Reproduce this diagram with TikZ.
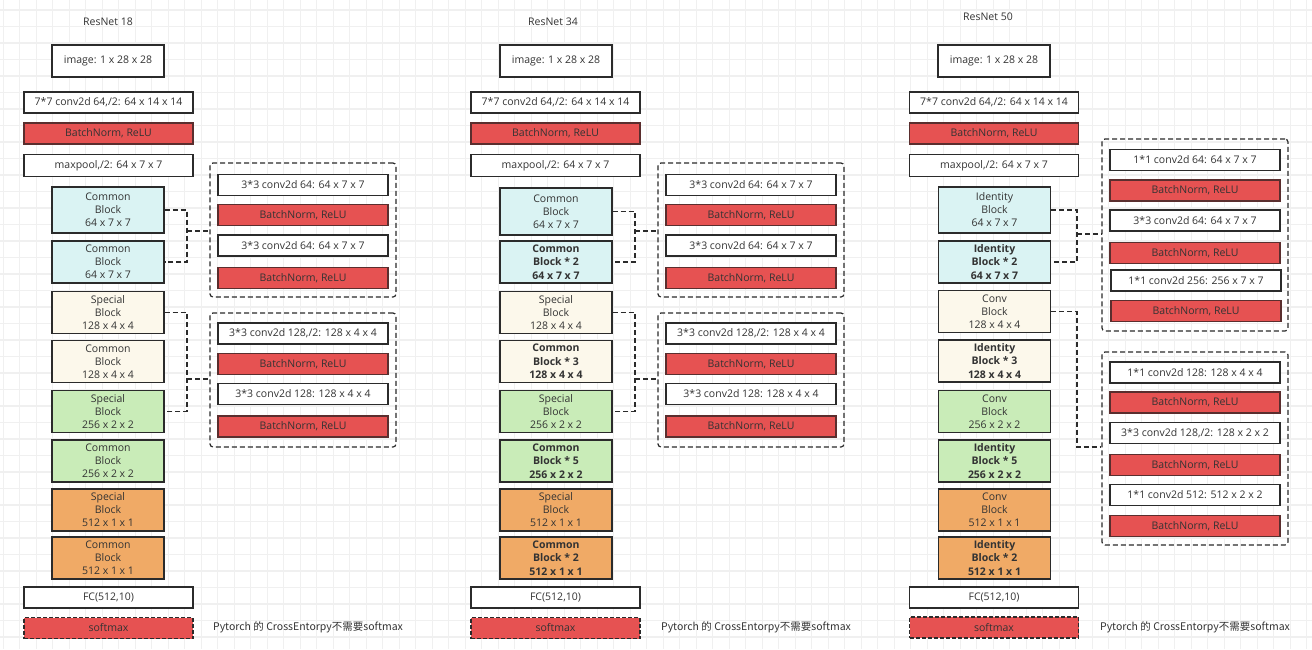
\documentclass[tikz,border=0pt]{standalone}
\usepackage{fontspec}
\setmainfont{Open Sans}
\newfontfamily\cjk{Noto Sans CJK SC}
\usetikzlibrary{positioning, calc}
\definecolor{linegray}{HTML}{2B2B2B}
\definecolor{textgray}{HTML}{333333}
\definecolor{gridgray}{HTML}{F0F0F0}
\definecolor{bnred}{HTML}{E65252}
\definecolor{bnborder}{HTML}{5A2E2E}
\definecolor{cyanfill}{HTML}{DAF3F3}
\definecolor{creamfill}{HTML}{FCF8EB}
\definecolor{greenfill}{HTML}{C9ECB8}
\definecolor{orangefill}{HTML}{F0AA66}
\tikzset{
    layer/.style = {draw=linegray, rectangle, line width=1.1pt, minimum width=169pt, minimum height=21pt, inner sep=0pt, text centered, text=textgray, fill=white},
    bnlayer/.style = {layer, fill=bnred, draw=bnborder},
    block/.style = {draw=linegray, rectangle, line width=1.1pt, minimum width=112pt, minimum height=42pt, inner sep=0pt, align=center, text=textgray},
    boldblock/.style = {block, font=\fontsize{10.5}{13.5}\selectfont\bfseries},
    sublayer/.style = {layer, minimum width=170pt},
    subbn/.style = {sublayer, fill=bnred, draw=bnborder},
    subgraph/.style = {draw=linegray, rectangle, rounded corners=3pt, line width=1.2pt, dash pattern=on 5pt off 3pt, minimum width=186pt, inner sep=0pt},
    link/.style = {draw=linegray, line width=1.2pt, dash pattern=on 5pt off 3pt},
    title/.style = {text=textgray},
    note/.style = {text=textgray, font=\cjk\fontsize{10.5}{13}\selectfont}
}

\begin{document}
\begin{tikzpicture}[x=1pt, y=-1pt, font=\fontsize{10.5}{13}\selectfont]
    % background and grid
    \fill[white] (0,0) rectangle (1312,649);
    \useasboundingbox (0,0) rectangle (1312,649);
    \foreach \gx in {3.2,19.7,...,1312} \draw[gridgray, line width=1.2pt] (\gx,0) -- (\gx,649);
    \foreach \gy in {10,26.5,...,649} \draw[gridgray, line width=1.2pt] (0,\gy) -- (1312,\gy);

    % ResNet 18
    \node[title] (r18title) at (108,22) {ResNet 18};
    \node[layer, minimum width=112pt, minimum height=32pt] (r18img) at (108,61) {image: 1 x 28 x 28};
    \node[layer] (r18conv) at (108.5,102.5) {7*7 conv2d 64,/2: 64 x 14 x 14};
    \node[bnlayer] (r18bn) at (108.5,133.5) {BatchNorm, ReLU};
    \node[layer, minimum height=22pt] (r18pool) at (108.5,165.5) {maxpool,/2: 64 x 7 x 7};
    \node[block, fill=cyanfill, minimum height=46pt] (r18b1) at (108,210) {Common\\Block\\64 x 7 x 7};
    \node[block, fill=cyanfill] (r18b2) at (108,262) {Common\\Block\\64 x 7 x 7};
    \node[block, fill=creamfill] (r18b3) at (108,312.5) {Special\\Block\\128 x 4 x 4};
    \node[block, fill=creamfill] (r18b4) at (108,361.5) {Common\\Block\\128 x 4 x 4};
    \node[block, fill=greenfill] (r18b5) at (108,411.5) {Special\\Block\\256 x 2 x 2};
    \node[block, fill=greenfill] (r18b6) at (108,461) {Common\\Block\\256 x 2 x 2};
    \node[block, fill=orangefill] (r18b7) at (108,510) {Special\\Block\\512 x 1 x 1};
    \node[block, fill=orangefill] (r18b8) at (108,558) {Common\\Block\\512 x 1 x 1};
    \node[layer] (r18fc) at (108.5,597.5) {FC(512,10)};
    \node[bnlayer, draw=linegray, dash pattern=on 4pt off 2pt] (r18soft) at (108.5,628) {softmax};
    \node[note] (r18note) at (308,627) {Pytorch 的 CrossEntorpy不需要softmax};

    \node[subgraph, minimum height=134pt] (r18g1) at (303,230) {};
    \node[sublayer] (r18g1a) at (303,185) {3*3 conv2d 64: 64 x 7 x 7};
    \node[subbn] (r18g1b) at (303,215) {BatchNorm, ReLU};
    \node[sublayer] (r18g1c) at (303,245.5) {3*3 conv2d 64: 64 x 7 x 7};
    \node[subbn] (r18g1d) at (303,278) {BatchNorm, ReLU};
    \node[subgraph, minimum height=134pt] (r18g2) at (303,380) {};
    \node[sublayer] (r18g2a) at (303,333.5) {3*3 conv2d 128,/2: 128 x 4 x 4};
    \node[subbn] (r18g2b) at (303,364) {BatchNorm, ReLU};
    \node[sublayer] (r18g2c) at (303,394) {3*3 conv2d 128: 128 x 4 x 4};
    \node[subbn] (r18g2d) at (303,426.5) {BatchNorm, ReLU};

    \coordinate (r18j1) at (187,231);
    \coordinate (r18j2) at (187,379);
    \draw[link] (r18b1.east) -| (r18j1) |- (r18b2.east);
    \draw[link] (r18j1) -- (r18j1 -| r18g1.west);
    \draw[link] (r18b3.east) -| (r18j2) |- (r18b5.east);
    \draw[link] (r18j2) -- (r18j2 -| r18g2.west);

    % ResNet 34
    \node[title] (r34title) at (553,22) {ResNet 34};
    \node[layer, minimum width=112pt, minimum height=32pt] (r34img) at (556,61) {image: 1 x 28 x 28};
    \node[layer] (r34conv) at (555.5,102.5) {7*7 conv2d 64,/2: 64 x 14 x 14};
    \node[bnlayer] (r34bn) at (555.5,133.5) {BatchNorm, ReLU};
    \node[layer, minimum height=22pt] (r34pool) at (555.5,165.5) {maxpool,/2: 64 x 7 x 7};
    \node[block, fill=cyanfill, minimum height=47pt] (r34b1) at (556,211.5) {Common\\Block\\64 x 7 x 7};
    \node[boldblock, fill=cyanfill] (r34b2) at (556,262) {Common\\Block * 2\\64 x 7 x 7};
    \node[block, fill=creamfill] (r34b3) at (556,312.5) {Special\\Block\\128 x 4 x 4};
    \node[boldblock, fill=creamfill] (r34b4) at (556,361.5) {Common\\Block * 3\\128 x 4 x 4};
    \node[block, fill=greenfill] (r34b5) at (556,411.5) {Special\\Block\\256 x 2 x 2};
    \node[boldblock, fill=greenfill] (r34b6) at (556,461) {Common\\Block * 5\\256 x 2 x 2};
    \node[block, fill=orangefill] (r34b7) at (556,510) {Special\\Block\\512 x 1 x 1};
    \node[boldblock, fill=orangefill] (r34b8) at (556,558) {Common\\Block * 2\\512 x 1 x 1};
    \node[layer] (r34fc) at (555.5,597.5) {FC(512,10)};
    \node[bnlayer, draw=linegray, dash pattern=on 4pt off 2pt] (r34soft) at (555.5,628) {softmax};
    \node[note] (r34note) at (756,627) {Pytorch 的 CrossEntorpy不需要softmax};

    \node[subgraph, minimum height=134pt] (r34g1) at (751,230) {};
    \node[sublayer] (r34g1a) at (751,185) {3*3 conv2d 64: 64 x 7 x 7};
    \node[subbn] (r34g1b) at (751,215) {BatchNorm, ReLU};
    \node[sublayer] (r34g1c) at (751,245.5) {3*3 conv2d 64: 64 x 7 x 7};
    \node[subbn] (r34g1d) at (751,278) {BatchNorm, ReLU};
    \node[subgraph, minimum height=134pt] (r34g2) at (751,380) {};
    \node[sublayer] (r34g2a) at (751,333.5) {3*3 conv2d 128,/2: 128 x 4 x 4};
    \node[subbn] (r34g2b) at (751,364) {BatchNorm, ReLU};
    \node[sublayer] (r34g2c) at (751,394) {3*3 conv2d 128: 128 x 4 x 4};
    \node[subbn] (r34g2d) at (751,426.5) {BatchNorm, ReLU};

    \coordinate (r34j1) at (635,231);
    \coordinate (r34j2) at (635,379);
    \draw[link] (r34b1.east) -| (r34j1) |- (r34b2.east);
    \draw[link] (r34j1) -- (r34j1 -| r34g1.west);
    \draw[link] (r34b3.east) -| (r34j2) |- (r34b5.east);
    \draw[link] (r34j2) -- (r34j2 -| r34g2.west);

    % ResNet 50
    \node[title] (r50title) at (988,17) {ResNet 50};
    \node[layer, minimum width=112pt, minimum height=32pt] (r50img) at (994,61) {image: 1 x 28 x 28};
    \node[layer] (r50conv) at (994,102.5) {7*7 conv2d 64,/2: 64 x 14 x 14};
    \node[bnlayer] (r50bn) at (994,133.5) {BatchNorm, ReLU};
    \node[layer, minimum height=22pt] (r50pool) at (994,165.5) {maxpool,/2: 64 x 7 x 7};
    \node[block, fill=cyanfill, minimum height=46pt] (r50b1) at (994.5,210) {Identity\\Block\\64 x 7 x 7};
    \node[boldblock, fill=cyanfill] (r50b2) at (994.5,262) {Identity\\Block * 2\\64 x 7 x 7};
    \node[block, fill=creamfill] (r50b3) at (994.5,311.5) {Conv\\Block\\128 x 4 x 4};
    \node[boldblock, fill=creamfill] (r50b4) at (994.5,361) {Identity\\Block * 3\\128 x 4 x 4};
    \node[block, fill=greenfill] (r50b5) at (994.5,411.5) {Conv\\Block\\256 x 2 x 2};
    \node[boldblock, fill=greenfill] (r50b6) at (994.5,461) {Identity\\Block * 5\\256 x 2 x 2};
    \node[block, fill=orangefill] (r50b7) at (994.5,510) {Conv\\Block\\512 x 1 x 1};
    \node[boldblock, fill=orangefill] (r50b8) at (994.5,558) {Identity\\Block * 2\\512 x 1 x 1};
    \node[layer] (r50fc) at (994,597.5) {FC(512,10)};
    \node[bnlayer, draw=linegray, dash pattern=on 4pt off 2pt] (r50soft) at (994,627.5) {softmax};
    \node[note] (r50note) at (1195,627) {Pytorch 的 CrossEntorpy不需要softmax};

    \node[subgraph, minimum height=192pt] (r50g1) at (1195,235) {};
    \node[sublayer] (r50g1a) at (1195,160) {1*1 conv2d 64: 64 x 7 x 7};
    \node[subbn] (r50g1b) at (1195,190.5) {BatchNorm, ReLU};
    \node[sublayer] (r50g1c) at (1195,220.5) {3*3 conv2d 64: 64 x 7 x 7};
    \node[subbn] (r50g1d) at (1195,253) {BatchNorm, ReLU};
    \node[sublayer] (r50g1e) at (1196,280.5) {1*1 conv2d 256: 256 x 7 x 7};
    \node[subbn] (r50g1f) at (1196,311) {BatchNorm, ReLU};
    \node[subgraph, minimum height=193pt] (r50g2) at (1195,448.5) {};
    \node[sublayer] (r50g2a) at (1195,372.5) {1*1 conv2d 128: 128 x 4 x 4};
    \node[subbn] (r50g2b) at (1195,402.5) {BatchNorm, ReLU};
    \node[sublayer] (r50g2c) at (1195,433) {3*3 conv2d 128,/2: 128 x 2 x 2};
    \node[subbn] (r50g2d) at (1195,465) {BatchNorm, ReLU};
    \node[sublayer] (r50g2e) at (1195,495) {1*1 conv2d 512: 512 x 2 x 2};
    \node[subbn] (r50g2f) at (1195,526) {BatchNorm, ReLU};

    \coordinate (r50j1) at (1077,234);
    \coordinate (r50j2) at (1077,447);
    \draw[link] (r50b1.east) -| (r50j1) |- (r50b2.east);
    \draw[link] (r50j1) -- (r50j1 -| r50g1.west);
    \draw[link] (r50b3.east) -| (r50j2) -- (r50j2 -| r50g2.west);
\end{tikzpicture}
\end{document}
